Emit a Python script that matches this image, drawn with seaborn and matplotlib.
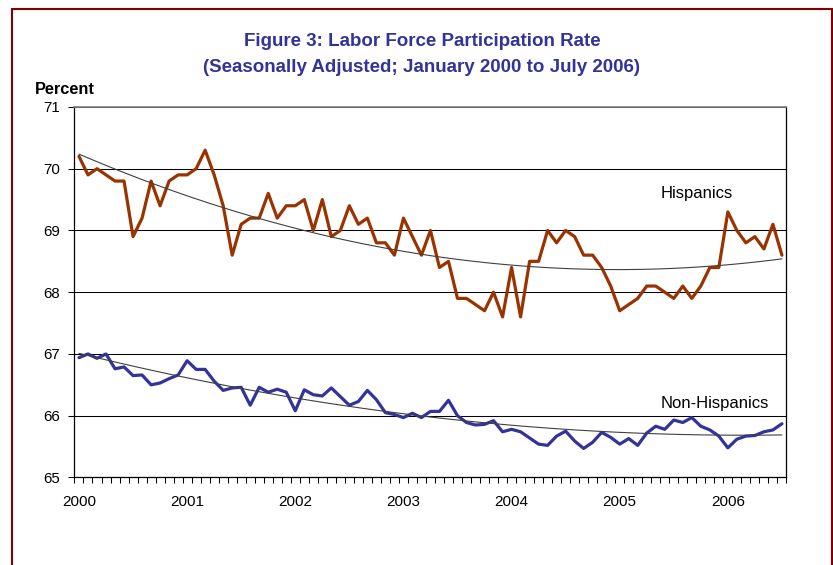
import numpy as np
import pandas as pd
import seaborn as sns
import matplotlib.pyplot as plt
from matplotlib import patches

# monthly values, Jan 2000 .. Jul 2006
hispanic = [
    70.2, 69.9, 70.0, 69.9, 69.8, 69.8, 68.9, 69.2, 69.8, 69.4, 69.8, 69.9,
    69.9, 70.0, 70.3, 69.9, 69.4, 68.6, 69.1, 69.2, 69.2, 69.6, 69.2, 69.4,
    69.4, 69.5, 69.0, 69.5, 68.9, 69.0, 69.4, 69.1, 69.2, 68.8, 68.8, 68.6,
    69.2, 68.9, 68.6, 69.0, 68.4, 68.5, 67.9, 67.9, 67.8, 67.7, 68.0, 67.6,
    68.4, 67.6, 68.5, 68.5, 69.0, 68.8, 69.0, 68.9, 68.6, 68.6, 68.4, 68.1,
    67.7, 67.8, 67.9, 68.1, 68.1, 68.0, 67.9, 68.1, 67.9, 68.1, 68.4, 68.4,
    69.3, 69.0, 68.8, 68.9, 68.7, 69.1, 68.6,
]
non_hispanic = [
    66.94, 67.0, 66.93, 67.0, 66.76, 66.79, 66.65, 66.66, 66.5, 66.53, 66.6, 66.66,
    66.89, 66.75, 66.75, 66.56, 66.41, 66.45, 66.46, 66.17, 66.46, 66.38, 66.43, 66.38,
    66.08, 66.42, 66.34, 66.32, 66.45, 66.31, 66.17, 66.23, 66.41, 66.26, 66.05, 66.02,
    65.97, 66.04, 65.97, 66.07, 66.07, 66.25, 66.0, 65.89, 65.85, 65.86, 65.92, 65.74,
    65.78, 65.74, 65.64, 65.54, 65.52, 65.67, 65.75, 65.59, 65.47, 65.57, 65.73, 65.65,
    65.54, 65.63, 65.52, 65.72, 65.83, 65.78, 65.93, 65.89, 65.97, 65.83, 65.77, 65.67,
    65.48, 65.62, 65.67, 65.68, 65.74, 65.77, 65.87,
]
years = ['2000', '2001', '2002', '2003', '2004', '2005', '2006']
y_ticks = [65, 66, 67, 68, 69, 70, 71]

df = pd.DataFrame({
    'month': np.arange(len(hispanic)),
    'Hispanics': hispanic,
    'Non-Hispanics': non_hispanic,
})

sns.set_theme(style='white')
plt.rcParams['font.family'] = ['Liberation Sans', 'DejaVu Sans']

fig = plt.figure(figsize=(8.33, 5.65), dpi=100)
ax = fig.add_axes([0.0894, 0.1549, 0.8547, 0.6558])

series = [('Hispanics', '#993300'), ('Non-Hispanics', '#333399')]
for col, color in series:
    sns.lineplot(data=df, x='month', y=col, color=color, lw=2.3, ax=ax, zorder=3)
    # Excel-style 2nd order polynomial trend line
    sns.regplot(data=df, x='month', y=col, order=2, scatter=False, ci=None,
                line_kws={'color': '#404040', 'lw': 0.8, 'zorder': 4}, ax=ax)

ax.set_xlim(-0.5, len(hispanic) - 0.5)
ax.set_ylim(65, 71)
ax.set_yticks(y_ticks)
ax.set_xticks(np.arange(0, len(hispanic), 12))
ax.set_xticklabels(years)
ax.set_xticks(np.arange(-0.5, len(hispanic), 1), minor=True)
ax.set_xlabel('')
ax.set_ylabel('')

ax.yaxis.grid(True, color='black', lw=0.75)
ax.set_axisbelow(True)
for side in ['left', 'bottom', 'right']:
    ax.spines[side].set_color('black')
    ax.spines[side].set_linewidth(0.9)
ax.spines['top'].set_color('#808080')
ax.spines['top'].set_linewidth(1.2)

ax.tick_params(axis='y', left=True, length=4, width=0.75, color='black',
               direction='out', pad=6.5, labelsize=10.8, labelcolor='black')
ax.tick_params(axis='x', which='major', bottom=True, length=0, pad=12.5,
               labelsize=11, labelcolor='black')
ax.tick_params(axis='x', which='minor', bottom=True, length=4.3, width=0.75,
               color='black', direction='out')

ax.text(64.5, 69.6, 'Hispanics', fontsize=12, va='center', ha='left', color='black')
ax.text(64.5, 66.19, 'Non-Hispanics', fontsize=12, va='center', ha='left', color='black')

fig.text(0.5066, 0.9257, 'Figure 3: Labor Force Participation Rate',
         ha='center', va='center', fontsize=13.5, fontweight='bold', color='#333399')
fig.text(0.5066, 0.8814, '(Seasonally Adjusted; January 2000 to July 2006)',
         ha='center', va='center', fontsize=13.5, fontweight='bold', color='#333399')
fig.text(35 / 833, 1 - 90 / 565, 'Percent', ha='left', va='center',
         fontsize=11.8, fontweight='bold', color='black')

fig.patches.append(patches.Rectangle((0.0148, -0.1), 0.984, 1.0835,
                                     transform=fig.transFigure, fill=False,
                                     edgecolor='#800000', lw=1.5))

fig.savefig('out.png', dpi=100)
